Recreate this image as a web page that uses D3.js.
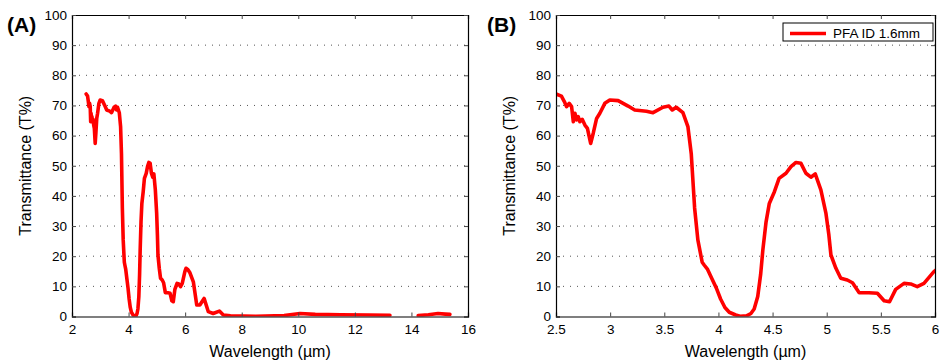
<!DOCTYPE html>
<html>
<head>
<meta charset="utf-8">
<script src="https://cdn.jsdelivr.net/npm/d3@7"></script>
<style>
  body { margin: 0; background: #fff; }
  svg { display: block; font-family: "Liberation Sans", Arial, sans-serif; }
</style>
</head>
<body>
<div id="chart"></div>
<script>
// Transmittance spectrum, PFA ID 1.6mm (null = gap in the measurement)
const wavelength = [
  2.50, 2.55, 2.577, 2.598, 2.622, 2.644, 2.66, 2.675, 2.69, 2.705, 2.72, 2.742, 2.767, 2.79,
  2.82, 2.844, 2.875, 2.905, 2.951, 2.997, 3.074, 3.166, 3.227, 3.335, 3.396, 3.488, 3.543,
  3.574, 3.61, 3.672, 3.718, 3.749, 3.78, 3.81, 3.85, 3.87, 3.90, 3.94, 3.98, 4.02, 4.06,
  4.10, 4.16, 4.20, 4.26, 4.30, 4.33, 4.363, 4.39, 4.41, 4.44, 4.47, 4.517, 4.56, 4.624,
  4.67, 4.716, 4.762, 4.808, 4.854, 4.894, 4.946, 4.993, 5.02, 5.039, 5.085, 5.13, 5.19,
  5.238, 5.30, 5.39, 5.468, 5.53, 5.58, 5.637, 5.714, 5.775, 5.836, 5.898, 5.99, 6.03,
  6.10, 6.17, 6.29, 6.41, 6.52, 6.67, 6.82, 6.99, 7.21, 7.35, 7.6, 8.5, 9.5, 10.06, 10.6,
  11.5, 12.5, 13.24, 13.7, 14.24, 14.6, 14.94, 15.2, 15.36
];
const transmittance = [
  73.8, 73.1, 71.3, 69.6, 70.7, 69.6, 64.6, 67.4, 65.2, 66.3, 64.6, 65.4, 63.5, 62.4,
  57.4, 60.8, 65.7, 67.4, 70.7, 71.8, 71.6, 69.8, 68.5, 68.1, 67.6, 69.4, 69.8,
  68.5, 69.4, 67.6, 63, 54, 36, 25.4, 18, 17, 15.6, 12.5, 9.5, 5.8, 3,
  1.4, 0.5, 0.1, 0.2, 1.0, 2.5, 6.6, 14, 22, 31.4, 37.5, 41.4, 45.8, 47.5,
  49.7, 51.1, 50.8, 47.5, 46.2, 47.3, 42, 34.2, 27, 20.4, 16, 12.7, 12.1,
  11.2, 7.9, 7.9, 7.7, 5.2, 4.9, 9.0, 11, 10.8, 9.9, 11, 14.9, 16,
  15.5, 14.5, 11.5, 3.8, 3.8, 6.0, 1.6, 1.0, 1.8, 0.5, 0.2, 0.1, 0.3, 1.0, 0.7,
  0.6, 0.5, 0.4, null, 0.3, 0.6, 1.0, 0.8, 0.7
];
const seriesName = "PFA ID 1.6mm";

const xTicksA = [2, 4, 6, 8, 10, 12, 14, 16];
const xTicksB = [2.5, 3, 3.5, 4, 4.5, 5, 5.5, 6];
const yTicks = [0, 10, 20, 30, 40, 50, 60, 70, 80, 90, 100];

const width = 940, height = 361;
const plotTop = 15, plotBottom = 316.5;

const data = wavelength.map((w, i) => ({x: w, y: transmittance[i]}));

const svg = d3.select("#chart").append("svg")
    .attr("width", width)
    .attr("height", height)
    .attr("viewBox", [0, 0, width, height]);

function drawPanel(p) {
  const x = d3.scaleLinear().domain(p.xDomain).range([p.left, p.right]);
  const y = d3.scaleLinear().domain([0, 100]).range([plotBottom, plotTop]);
  const g = svg.append("g");

  g.append("clipPath")
      .attr("id", p.id + "-clip")
    .append("rect")
      .attr("x", p.left)
      .attr("y", plotTop)
      .attr("width", p.right - p.left)
      .attr("height", plotBottom - plotTop);

  // dotted horizontal grid
  g.append("g")
    .selectAll("line")
    .data(yTicks.slice(1, -1))
    .join("line")
      .attr("x1", p.left)
      .attr("x2", p.right)
      .attr("y1", d => y(d))
      .attr("y2", d => y(d))
      .attr("stroke", "#555")
      .attr("stroke-width", 1)
      .attr("stroke-dasharray", "1,6");

  const line = d3.line()
      .defined(d => d.y !== null)
      .x(d => x(d.x))
      .y(d => y(d.y));

  g.append("path")
      .datum(data)
      .attr("clip-path", `url(#${p.id}-clip)`)
      .attr("fill", "none")
      .attr("stroke", "#ff0000")
      .attr("stroke-width", 3.6)
      .attr("stroke-linejoin", "round")
      .attr("stroke-linecap", "round")
      .attr("d", line);

  const fmt = d3.format("~g");

  const axB = g.append("g")
      .attr("transform", `translate(0,${plotBottom})`)
      .call(d3.axisBottom(x).tickValues(p.xTicks).tickFormat(fmt).tickSize(-4).tickPadding(8));
  const axT = g.append("g")
      .attr("transform", `translate(0,${plotTop})`)
      .call(d3.axisTop(x).tickValues(p.xTicks).tickFormat("").tickSize(-4));
  const axL = g.append("g")
      .attr("transform", `translate(${p.left},0)`)
      .call(d3.axisLeft(y).tickValues(yTicks).tickFormat(fmt).tickSize(-4).tickPadding(5));
  const axR = g.append("g")
      .attr("transform", `translate(${p.right},0)`)
      .call(d3.axisRight(y).tickValues(yTicks).tickFormat("").tickSize(-4));

  [axB, axT, axL, axR].forEach(a => {
    a.select(".domain").attr("stroke", "#000").attr("stroke-width", 1.2);
    a.selectAll(".tick line").attr("stroke", "#444");
    a.selectAll("text")
        .attr("fill", "#000")
        .style("font-size", "13.5px")
        .style("font-family", "'Liberation Sans', Arial, sans-serif");
  });

  g.append("text")
      .attr("x", (p.left + p.right) / 2)
      .attr("y", 357)
      .attr("text-anchor", "middle")
      .style("font-size", "16px")
      .text("Wavelength (µm)");

  g.append("text")
      .attr("transform", `translate(${p.left - 41},${(plotTop + plotBottom) / 2}) rotate(-90)`)
      .attr("text-anchor", "middle")
      .style("font-size", "16px")
      .text("Transmittance (T%)");

  g.append("text")
      .attr("x", p.labelX)
      .attr("y", 32)
      .style("font-size", "21px")
      .style("font-weight", "bold")
      .text(p.label);

  return g;
}

drawPanel({id: "a", label: "(A)", labelX: 7, left: 72, right: 468, xDomain: [2, 16], xTicks: xTicksA});
const gB = drawPanel({id: "b", label: "(B)", labelX: 487, left: 556, right: 935, xDomain: [2.5, 6], xTicks: xTicksB});

// legend
const legend = gB.append("g");
legend.append("rect")
    .attr("x", 783)
    .attr("y", 23)
    .attr("width", 150)
    .attr("height", 18)
    .attr("fill", "#fff")
    .attr("stroke", "#000")
    .attr("stroke-width", 1);
legend.append("line")
    .attr("x1", 790)
    .attr("x2", 826)
    .attr("y1", 33.5)
    .attr("y2", 33.5)
    .attr("stroke", "#ff0000")
    .attr("stroke-width", 3.6);
legend.append("text")
    .attr("x", 833)
    .attr("y", 38)
    .style("font-size", "13.5px")
    .text(seriesName);
</script>
</body>
</html>
